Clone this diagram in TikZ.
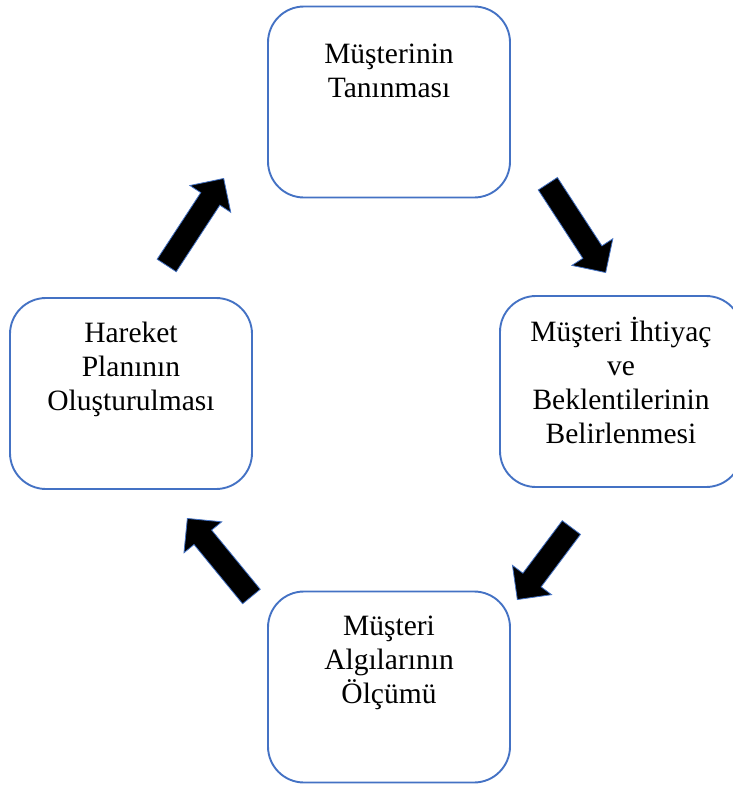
\documentclass[tikz,border=0pt]{standalone}
\usepackage{fontspec}
\setmainfont{Liberation Serif}
\usepackage{tikz}
\usetikzlibrary{shapes.arrows,positioning}
\definecolor{boxblue}{HTML}{4472C4}
\tikzset{
  stepbox/.style={draw=boxblue, line width=1.9pt, rounded corners=36pt,
    minimum width=242pt, minimum height=191pt, inner sep=0pt},
  steptext/.style={align=center, inner sep=0pt, font=\fontsize{29.5}{34}\selectfont},
  flowarrow/.style={single arrow, fill=black, draw=boxblue, line width=0.8pt,
    inner xsep=0pt, inner ysep=11pt, single arrow head extend=13pt, minimum width=0pt,
    sloped, allow upside down, pos=1, anchor=tip}
}

\begin{document}
\begin{tikzpicture}[x=1pt, y=-1pt]
    \useasboundingbox (0,0) rectangle (732,785);
    % boxes
    \node[stepbox] (tani) at (389,102) {};
    \node[stepbox] (ihtiyac) at (621,391.5) {};
    \node[stepbox] (olcum) at (389,687) {};
    \node[stepbox] (plan) at (131,393.5) {};
    % texts
    \node[steptext, below=34pt of tani.north] (tanitext) {\strut Müşterinin\\Tanınması};
    \node[steptext, below=22pt of ihtiyac.north] (ihtiyactext) {\strut Müşteri İhtiyaç\\ve\\Beklentilerinin\\Belirlenmesi};
    \node[steptext, below=21pt of olcum.north] (olcumtext) {\strut Müşteri\\Algılarının\\Ölçümü};
    \node[steptext, below=21pt of plan.north] (plantext) {\strut Hareket\\Planının\\Oluşturulması};
    % arrows
    \coordinate (a1s) at (167,265); \coordinate (a1e) at (224,178);
    \coordinate (a2s) at (548,184); \coordinate (a2e) at (606,273);
    \coordinate (a3s) at (571,528); \coordinate (a3e) at (517,600);
    \coordinate (a4s) at (251,596); \coordinate (a4e) at (187,518);
    \path (a1s) -- (a1e) node[flowarrow, minimum height=104pt] (plantotani) {};
    \path (a2s) -- (a2e) node[flowarrow, minimum height=106pt] (tanitoihtiyac) {};
    \path (a3s) -- (a3e) node[flowarrow, minimum height=90pt] (ihtiyactoolcum) {};
    \path (a4s) -- (a4e) node[flowarrow, minimum height=101pt] (olcumtoplan) {};
\end{tikzpicture}
\end{document}
